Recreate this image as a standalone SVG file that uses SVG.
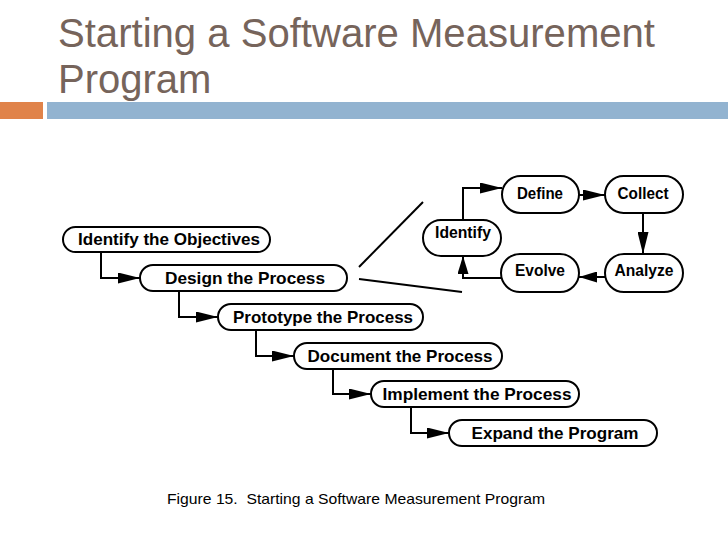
<svg xmlns="http://www.w3.org/2000/svg" width="728" height="546" viewBox="0 0 728 546">
<style>
.title{font-family:"Liberation Sans",Arial,sans-serif;font-size:40px;fill:#76645B}
.node rect{fill:#fff;stroke:#000;stroke-width:2}
.node text{font-family:"Liberation Sans",Arial,sans-serif;font-weight:bold;font-size:16.5px;fill:#000;text-anchor:middle}
.conn{fill:none;stroke:#000;stroke-width:2}
.cap{font-family:"Liberation Sans",Arial,sans-serif;font-size:14.5px;fill:#000}
</style>
<defs>
<marker id="ah" markerUnits="userSpaceOnUse" markerWidth="22" markerHeight="11" refX="22" refY="5.5" orient="auto">
<path d="M0,0 L22,5.5 L0,11 z" fill="#000"/>
</marker>
<marker id="ahs" markerUnits="userSpaceOnUse" markerWidth="18" markerHeight="11" refX="18" refY="5.5" orient="auto">
<path d="M0,0 L18,5.5 L0,11 z" fill="#000"/>
</marker>
</defs>
<rect width="728" height="546" fill="#fff"/>
<g id="title">
<text class="title" x="58" y="47" textLength="597" lengthAdjust="spacingAndGlyphs">Starting a Software Measurement</text>
<text class="title" x="58" y="93">Program</text>
<rect x="0" y="102" width="43" height="17" fill="#E0834A"/>
<rect x="47" y="102" width="681" height="17" fill="#92B3D0"/>
</g>
<g id="connectors">
<path class="conn" d="M101,252 V278 H140" marker-end="url(#ah)"/>
<path class="conn" d="M179,291 V317 H218" marker-end="url(#ah)"/>
<path class="conn" d="M256,330 V356 H294" marker-end="url(#ah)"/>
<path class="conn" d="M333,369 V394 H371" marker-end="url(#ah)"/>
<path class="conn" d="M411,407 V433 H449" marker-end="url(#ah)"/>
<path class="conn" d="M463,220 V188 H502" marker-end="url(#ah)"/>
<path class="conn" d="M579,195 H605" marker-end="url(#ah)"/>
<path class="conn" d="M643,213 V254" marker-end="url(#ah)"/>
<path class="conn" d="M605,277 H579" marker-end="url(#ahs)"/>
<path class="conn" d="M501,278 H463 V256" marker-end="url(#ahs)"/>
<line class="conn" x1="359" y1="267" x2="423" y2="202" stroke-width="1.8"/>
<line class="conn" x1="359" y1="279" x2="462" y2="292" stroke-width="1.8"/>
</g>
<g id="n1" class="node"><rect x="63" y="227" width="207" height="25" rx="12.5"/><text x="169" y="245" textLength="182" lengthAdjust="spacingAndGlyphs">Identify the Objectives</text></g>
<g id="n2" class="node"><rect x="140" y="265" width="207" height="26" rx="13"/><text x="245" y="284" textLength="160" lengthAdjust="spacingAndGlyphs">Design the Process</text></g>
<g id="n3" class="node"><rect x="218" y="304" width="205" height="26" rx="13"/><text x="323" y="323" textLength="180" lengthAdjust="spacingAndGlyphs">Prototype the Process</text></g>
<g id="n4" class="node"><rect x="294" y="343" width="208" height="26" rx="13"/><text x="400" y="362" textLength="185" lengthAdjust="spacingAndGlyphs">Document the Process</text></g>
<g id="n5" class="node"><rect x="371" y="381" width="208" height="26" rx="13"/><text x="477" y="400" textLength="189" lengthAdjust="spacingAndGlyphs">Implement the Process</text></g>
<g id="n6" class="node"><rect x="449" y="420" width="208" height="26" rx="13"/><text x="555" y="439" textLength="167" lengthAdjust="spacingAndGlyphs">Expand the Program</text></g>
<g id="c-identify" class="node"><rect x="423" y="220" width="78" height="36" rx="18"/><text x="463" y="238" textLength="56" lengthAdjust="spacingAndGlyphs">Identify</text></g>
<g id="c-define" class="node"><rect x="502" y="176" width="77" height="37" rx="18.5"/><text x="540" y="199" textLength="46" lengthAdjust="spacingAndGlyphs">Define</text></g>
<g id="c-collect" class="node"><rect x="605" y="176" width="78" height="37" rx="18.5"/><text x="643" y="199" textLength="51" lengthAdjust="spacingAndGlyphs">Collect</text></g>
<g id="c-evolve" class="node"><rect x="501" y="254" width="78" height="38" rx="19"/><text x="540" y="276" textLength="50" lengthAdjust="spacingAndGlyphs">Evolve</text></g>
<g id="c-analyze" class="node"><rect x="605" y="254" width="78" height="38" rx="19"/><text x="644" y="276" textLength="59" lengthAdjust="spacingAndGlyphs">Analyze</text></g>
<g id="caption">
<text class="cap" x="167" y="504" xml:space="preserve" textLength="378" lengthAdjust="spacingAndGlyphs">Figure 15.  Starting a Software Measurement Program</text>
</g>
</svg>
